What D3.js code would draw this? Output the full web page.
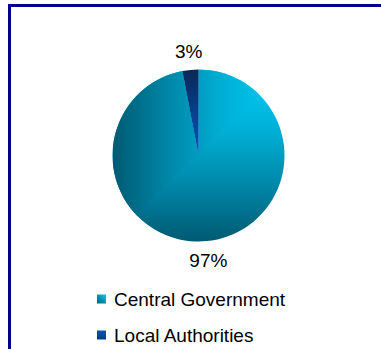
<!DOCTYPE html>
<html>
<head>
<meta charset="utf-8">
<script src="https://cdn.jsdelivr.net/npm/d3@7/dist/d3.min.js"></script>
<style>
  html, body { margin: 0; padding: 0; background: #fff; }
  svg { display: block; }
  text { font-family: "Liberation Sans", Arial, sans-serif; fill: #000; }
</style>
</head>
<body>
<svg id="chart" width="381" height="349"></svg>
<script>
// Funding shares by source
const categories = ["Central Government", "Local Authorities"];
const shares = [97, 3];
const labels = ["97%", "3%"];

const svg = d3.select("#chart");
const defs = svg.append("defs");

// Frame: only the top and left edges fall inside the view
svg.append("rect")
  .attr("x", 9.5).attr("y", 5.5)
  .attr("width", 400).attr("height", 400)
  .attr("fill", "none")
  .attr("stroke", "#00008c")
  .attr("stroke-width", 3);

const cx = 198.5, cy = 155.5, r = 86;

// Gradient helpers (coordinates relative to the pie centre)
function linear(id, x1, y1, x2, y2, stops) {
  const g = defs.append("linearGradient").attr("id", id)
    .attr("gradientUnits", "userSpaceOnUse")
    .attr("x1", x1).attr("y1", y1).attr("x2", x2).attr("y2", y2);
  stops.forEach(([o, c]) => g.append("stop").attr("offset", o).attr("stop-color", c));
}
const cgStops = [[0, "#00cbf6"], [0.35, "#00b0d6"], [0.65, "#008aac"], [1, "#005a72"]];

// "From corner" fill: lit at the top-right corner of the pie's box
linear("cgH", r, 0, -r, 0, cgStops);   // upper-left triangle: horizontal falloff
linear("cgV", 0, -r, 0, r, cgStops);   // lower-right part: vertical falloff
linear("laFill", 0, -r, 0, 0, [[0, "#0a2858"], [1, "#0058c0"]]);

defs.append("clipPath").attr("id", "triUL").append("polygon")
  .attr("points", `${-r},${-r} ${r},${-r} ${-r},${r}`);

const pie = d3.pie().sort(null).value(d => d)(shares);
const arc = d3.arc().innerRadius(0).outerRadius(r);
const labelArc = d3.arc().innerRadius(105).outerRadius(105);

const g = svg.append("g").attr("transform", `translate(${cx},${cy})`);

// Central Government slice: vertical falloff everywhere, horizontal on top of the upper-left half
g.append("path")
  .attr("d", arc(pie[0]))
  .attr("fill", "url(#cgV)");
g.append("path")
  .attr("clip-path", "url(#triUL)")
  .attr("d", arc(pie[0]))
  .attr("fill", "url(#cgH)");

// Local Authorities slice
g.append("path")
  .attr("d", arc(pie[1]))
  .attr("fill", "url(#laFill)");

// Percentage labels
g.append("g")
  .selectAll("text").data(pie).join("text")
  .attr("transform", d => `translate(${labelArc.centroid(d)})`)
  .attr("text-anchor", "middle")
  .attr("dy", "0.36em")
  .style("font-size", "19px")
  .text((d, i) => labels[i]);

// Legend
const swatchFills = ["url(#swCG)", "url(#swLA)"];
const sw1 = defs.append("linearGradient").attr("id", "swCG")
  .attr("x1", 1).attr("y1", 0).attr("x2", 0).attr("y2", 1);
sw1.append("stop").attr("offset", 0).attr("stop-color", "#00caf5");
sw1.append("stop").attr("offset", 1).attr("stop-color", "#00607a");
const sw2 = defs.append("linearGradient").attr("id", "swLA")
  .attr("x1", 0).attr("y1", 0).attr("x2", 0).attr("y2", 1);
sw2.append("stop").attr("offset", 0).attr("stop-color", "#0058b0");
sw2.append("stop").attr("offset", 1).attr("stop-color", "#003a80");

const legendY = d3.scalePoint().domain(categories).range([299, 335]);
const lg = svg.append("g").selectAll("g").data(categories).join("g")
  .attr("transform", d => `translate(97,${legendY(d)})`);
lg.append("rect")
  .attr("x", 0).attr("y", -4.5)
  .attr("width", 9).attr("height", 9)
  .attr("fill", (d, i) => swatchFills[i]);
lg.append("text")
  .attr("x", 17).attr("dy", "0.36em")
  .style("font-size", "19px")
  .text(d => d);
</script>
</body>
</html>
